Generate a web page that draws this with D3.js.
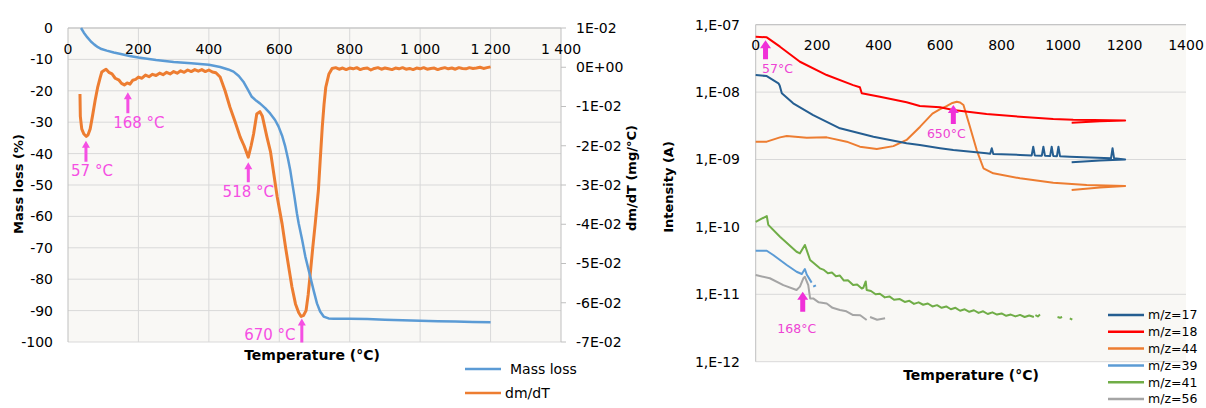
<!DOCTYPE html>
<html><head><meta charset="utf-8">
<script src="https://cdn.jsdelivr.net/npm/d3@7"></script>
<style>
body{margin:0;background:#fff;}
svg{display:block;font-family:"DejaVu Sans",sans-serif;}
</style></head><body>
<svg id="c" width="1206" height="408"></svg>
<script>
// ---------- LEFT CHART DATA (TGA) ----------
const massLossT = [37,45,55,65,75,85,95,110,130,150,175,200,250,300,350,400,432,455,470,485,498,510,522,535,545,560,574,588,598,608,617,625,631,637,643,650,655,665,674,681,688,698,707,716,726,740,754,800,850,900,950,1000,1050,1100,1150,1200];
const massLossV = [0,-1.5,-3,-4.3,-5.3,-6.1,-6.7,-7.2,-7.8,-8.3,-8.9,-9.4,-10.2,-10.8,-11.2,-11.7,-12.4,-13.2,-13.9,-15.3,-17.1,-19.5,-21.9,-23.2,-24,-25.5,-27.2,-29.3,-31.4,-34.3,-37.8,-41.8,-45.2,-49.5,-53.7,-59,-62.2,-67.5,-72.8,-76,-79.2,-83.8,-87.7,-90.3,-91.9,-92.5,-92.6,-92.6,-92.7,-92.9,-93.1,-93.2,-93.4,-93.5,-93.6,-93.7];
const dmdtT = [34,35,39,45,52,57,63,70,77,84,91,96,101,108,116,125,134,145,152,160,168,176,184,192,200,210,220,230,240,250,260,270,280,290,300,310,320,330,340,350,360,370,380,390,400,410,420,432,446,460,475,489,500,512,520,527,536,545,552,565,575,583,594,608,618,627,636,646,655,662,669,676,682,688,695,702,711,716,722,727,732,741,750,760,770,780,790,800,810,820,830,840,850,860,870,880,890,900,910,920,930,940,950,960,970,980,990,1000,1010,1020,1030,1040,1050,1060,1070,1080,1090,1100,1110,1120,1130,1140,1150,1160,1170,1180,1190,1200];
const dmdtV = [-0.0068,-0.0125,-0.0157,-0.0170,-0.0176,-0.0172,-0.0157,-0.0122,-0.0085,-0.0052,-0.0028,-0.0012,-0.0009,-0.0005,-0.0013,-0.0017,-0.0028,-0.0033,-0.0041,-0.0045,-0.0040,-0.0043,-0.0033,-0.0031,-0.0025,-0.0028,-0.0020,-0.0024,-0.0018,-0.0021,-0.0015,-0.0019,-0.0013,-0.0017,-0.0011,-0.0015,-0.0009,-0.0013,-0.0007,-0.0011,-0.0006,-0.0010,-0.0006,-0.0011,-0.0007,-0.0012,-0.0014,-0.0025,-0.0060,-0.0102,-0.0140,-0.0178,-0.0200,-0.0229,-0.0200,-0.0170,-0.0119,-0.0113,-0.0125,-0.0178,-0.0215,-0.0263,-0.0330,-0.0399,-0.0460,-0.0510,-0.0560,-0.0603,-0.0625,-0.0635,-0.0632,-0.0620,-0.0580,-0.0526,-0.0460,-0.0399,-0.0314,-0.0240,-0.0153,-0.0095,-0.0051,-0.0017,-0.0003,-0.0001,-0.0005,-0.0002,-0.0006,-0.0002,-0.0004,-0.0001,-0.0006,-0.0003,-0.0002,-0.0007,-0.0003,-0.0001,-0.0005,-0.0002,-0.0004,-0.0006,-0.0002,-0.0004,-0.0001,-0.0005,-0.0003,-0.0006,-0.0002,-0.0004,-0.0001,-0.0005,-0.0003,-0.0002,-0.0006,-0.0003,-0.0001,-0.0004,-0.0002,-0.0005,-0.0001,-0.0003,-0.0004,-0.0001,-0.0003,-0.0002,0.0000,-0.0003,-0.0001,0.0001];
const leftXTicks = [0,200,400,600,800,1000,1200,1400];
const leftXTickLabels = ["0","200","400","600","800","1 000","1 200","1 400"];
const leftYTicks = [0,-10,-20,-30,-40,-50,-60,-70,-80,-90,-100];
const dmdtTicks = [0.01,0,-0.01,-0.02,-0.03,-0.04,-0.05,-0.06,-0.07];
const dmdtTickLabels = ["1E-02","0E+00","-1E-02","-2E-02","-3E-02","-4E-02","-5E-02","-6E-02","-7E-02"];
const leftLegend = ["Mass loss","dm/dT"];
const leftAnnoLabels = ["57 °C","168 °C","518 °C","670 °C"];
const leftAnnoT = [51,170,512,664];
const leftAnnoV = [-0.0187,-0.0064,-0.0242,-0.0640];

// ---------- RIGHT CHART DATA (MS) ----------
const ms17T = [0,36,74,78,85,122,187,274,383,491,534,600,643,751,763,768,773,860,898,903,908,931,936,941,958,963,968,980,985,990,1022,1156,1161,1166,1202,1120,1028];
const ms17V = [1.79e-8,1.73e-8,1.35e-8,1.25e-8,9.6e-9,6.82e-9,4.57e-9,2.9e-9,2.18e-9,1.74e-9,1.64e-9,1.47e-9,1.38e-9,1.24e-9,1.22e-9,1.47e-9,1.21e-9,1.17e-9,1.15e-9,1.55e-9,1.15e-9,1.14e-9,1.55e-9,1.14e-9,1.13e-9,1.55e-9,1.13e-9,1.12e-9,1.55e-9,1.12e-9,1.10e-9,1.04e-9,1.47e-9,1.04e-9,1.0e-9,0.97e-9,0.91e-9];
const ms18T = [0,36,79,144,231,317,339,345,404,491,534,600,643,751,860,968,1033,1100,1202,1120,1028];
const ms18V = [6.64e-8,6.5e-8,4.72e-8,2.82e-8,1.79e-8,1.27e-8,1.18e-8,9.6e-9,8.55e-9,7.06e-9,6.22e-9,5.94e-9,5.42e-9,4.73e-9,4.31e-9,3.99e-9,3.88e-9,3.84e-9,3.8e-9,3.68e-9,3.52e-9];
const ms44T = [0,36,79,101,166,231,296,339,394,448,491,535,575,600,621,640,654,665,676,697,719,741,773,860,968,1077,1202,1120,1028];
const ms44V = [1.84e-9,1.84e-9,2.13e-9,2.23e-9,2.1e-9,2.13e-9,1.84e-9,1.55e-9,1.43e-9,1.58e-9,1.95e-9,3.07e-9,4.8e-9,5.6e-9,6.2e-9,6.9e-9,7.2e-9,7.0e-9,6.44e-9,3.07e-9,1.38e-9,7.41e-10,6.24e-10,5.26e-10,4.53e-10,4.19e-10,4.05e-10,3.85e-10,3.52e-10];
const ms39T = [0,36,57,101,133,150,160,166,182,null,187,196];
const ms39V = [4.43e-11,4.43e-11,3.83e-11,2.72e-11,2.16e-11,2.0e-11,2.37e-11,1.97e-11,1.49e-11,null,1.30e-11,1.36e-11];
const ms41T = [0,36,41,79,133,144,160,177,209,222,235,248,261,274,287,300,317,330,345,350,358,361,375,390,404,420,435,450,469,485,500,515,530,545,560,575,590,605,620,635,650,665,680,695,710,725,740,755,770,785,800,815,830,845,860,875,890,905,null,910,918,925,null,982,990,997,null,1022,1030];
const ms41V = [1.19e-10,1.45e-10,1.07e-10,7.14e-11,4.28e-11,4.05e-11,5.4e-11,3.23e-11,2.43e-11,2.3e-11,2.05e-11,2.1e-11,1.85e-11,1.9e-11,1.6e-11,1.62e-11,1.37e-11,1.4e-11,1.22e-11,1.25e-11,1.55e-11,1.16e-11,1.12e-11,1.0e-11,1.02e-11,9.0e-12,9.3e-12,8.3e-12,8.5e-12,7.7e-12,8.0e-12,7.2e-12,7.6e-12,7.0e-12,7.3e-12,6.6e-12,6.9e-12,6.3e-12,6.6e-12,6.0e-12,6.3e-12,5.7e-12,6.0e-12,5.5e-12,5.8e-12,5.3e-12,5.6e-12,5.1e-12,5.4e-12,5.0e-12,5.2e-12,4.8e-12,5.0e-12,4.7e-12,4.95e-12,4.6e-12,4.85e-12,4.6e-12,null,4.9e-12,4.7e-12,5.0e-12,null,4.6e-12,4.5e-12,4.6e-12,null,4.4e-12,4.2e-12];
const ms56T = [0,46,90,133,144,155,160,171,177,187,205,231,250,274,295,317,340,361,null,372,395,421];
const ms56V = [1.93e-11,1.73e-11,1.37e-11,1.16e-11,1.3e-11,1.73e-11,1.82e-11,1.37e-11,8.7e-12,8.7e-12,7.6e-12,7.3e-12,6.3e-12,5.85e-12,5.6e-12,4.93e-12,4.9e-12,4.16e-12,null,4.6e-12,4.2e-12,4.4e-12];
const msLegend = ["m/z=17","m/z=18","m/z=44","m/z=39","m/z=41","m/z=56"];
const msXTicks = [0,200,400,600,800,1000,1200,1400];
const msYTicks = [1e-7,1e-8,1e-9,1e-10,1e-11,1e-12];
const msYTickLabels = ["1,E-07","1,E-08","1,E-09","1,E-10","1,E-11","1,E-12"];
const msAnnoLabels = ["57°C","650°C","168°C"];
const msAnnoT = [32,643,153];
const msAnnoV = [5.9e-8,6.44e-9,1.09e-11];

// ---------- DRAW ----------
const svg = d3.select("#c");
const plotBg = "#f9f8f5", gridC = "#d9d9d9", axisC = "#bfbfbf";
const pink = "#f54fe3", pinkR = "#ee44d4";

const xL = d3.scaleLinear([0,1400],[68,561]);
const yL = d3.scaleLinear([-100,0],[342,28]);
const yR = d3.scaleLinear([-0.07,0.01],[342,28]);

const gL = svg.append("g");
gL.append("rect").attr("x",xL(0)).attr("y",yL(0)).attr("width",xL(1400)-xL(0)).attr("height",yL(-100)-yL(0)).attr("fill",plotBg);
gL.selectAll(".hg").data(leftYTicks).join("line").attr("x1",xL(0)).attr("x2",xL(1400))
  .attr("y1",d=>yL(d)).attr("y2",d=>yL(d)).attr("stroke",gridC).attr("stroke-width",1);
gL.selectAll(".vg").data(leftXTicks.slice(1,-1)).join("line").attr("y1",yL(0)).attr("y2",yL(-100))
  .attr("x1",d=>xL(d)).attr("x2",d=>xL(d)).attr("stroke",gridC).attr("stroke-width",1);
gL.append("line").attr("x1",xL(0)).attr("x2",xL(0)).attr("y1",yL(0)).attr("y2",yL(-100)).attr("stroke",axisC);
gL.append("line").attr("x1",xL(0)).attr("x2",xL(1400)).attr("y1",yL(0)).attr("y2",yL(0)).attr("stroke",axisC);
gL.append("line").attr("x1",xL(1400)).attr("x2",xL(1400)).attr("y1",yL(0)).attr("y2",yL(-100)).attr("stroke",axisC);
gL.selectAll(".rt").data(dmdtTicks).join("line").attr("x1",xL(1400)).attr("x2",xL(1400)+5)
  .attr("y1",d=>yR(d)).attr("y2",d=>yR(d)).attr("stroke",axisC);
gL.selectAll(".ly").data(leftYTicks).join("text").attr("x",53).attr("y",d=>yL(d)).attr("dy","0.35em")
  .attr("text-anchor","end").attr("font-size",14).attr("fill","#000").text(d=>d);
gL.selectAll(".lx").data(leftXTicks).join("text").attr("x",d=>xL(d)).attr("y",yL(0)+21).attr("dy","0.35em")
  .attr("text-anchor","middle").attr("font-size",14).attr("fill","#000").text((d,i)=>leftXTickLabels[i]);
gL.selectAll(".ry").data(dmdtTicks).join("text").attr("x",576).attr("y",d=>yR(d)).attr("dy","0.35em")
  .attr("text-anchor","start").attr("font-size",14).attr("fill","#000").text((d,i)=>dmdtTickLabels[i]);
gL.append("text").attr("transform","translate(18,184) rotate(-90)").attr("text-anchor","middle").attr("dy","0.35em")
  .attr("font-size",13).attr("font-weight","bold").text("Mass loss (%)");
gL.append("text").attr("transform","translate(631,178) rotate(-90)").attr("text-anchor","middle").attr("dy","0.35em")
  .attr("font-size",13).attr("font-weight","bold").text("dm/dT (mg/°C)");
gL.append("text").attr("x",312).attr("y",355).attr("dy","0.35em").attr("text-anchor","middle")
  .attr("font-size",14).attr("font-weight","bold").text("Temperature (°C)");
const lineML = d3.line().x(d=>xL(d[0])).y(d=>yL(d[1]));
const lineDM = d3.line().x(d=>xL(d[0])).y(d=>yR(d[1]));
gL.append("path").datum(dmdtT.map((t,i)=>[t,dmdtV[i]])).attr("d",lineDM).attr("fill","none")
  .attr("stroke","#ed7d31").attr("stroke-width",3).attr("stroke-linejoin","round");
gL.append("path").datum(massLossT.map((t,i)=>[t,massLossV[i]])).attr("d",lineML).attr("fill","none")
  .attr("stroke","#5b9bd5").attr("stroke-width",2.5).attr("stroke-linejoin","round");

function arrow(g, x, tipY, len, shaftW, headW, headH, color){
  g.append("path").attr("d",
    `M${x-shaftW/2},${tipY+len} L${x-shaftW/2},${tipY+headH} L${x-headW/2},${tipY+headH} L${x},${tipY} L${x+headW/2},${tipY+headH} L${x+shaftW/2},${tipY+headH} L${x+shaftW/2},${tipY+len} Z`)
    .attr("fill",color);
}
const leftAnnoLayout = [[6,30,21],[11,30,21],[0,30,20],[-32,16,24]];
leftAnnoLabels.forEach((lab,i)=>{
  const x = xL(leftAnnoT[i]), ty = yR(leftAnnoV[i]);
  const [dx,dy,len] = leftAnnoLayout[i];
  arrow(gL,x,ty,len,3,8,7,pink);
  gL.append("text").attr("x",x+dx).attr("y",ty+dy).attr("dy","0.35em").attr("text-anchor","middle")
    .attr("font-size",15).attr("fill",pink).text(lab);
});
const legColL = ["#5b9bd5","#ed7d31"];
leftLegend.forEach((lab,i)=>{
  const y = 369 + i*24;
  gL.append("line").attr("x1",465).attr("x2",501).attr("y1",y).attr("y2",y).attr("stroke",legColL[i]).attr("stroke-width",2.5);
  gL.append("text").attr("x",i===0?510:505).attr("y",y).attr("dy","0.35em").attr("font-size",14).text(lab);
});

// Right chart
const xR = d3.scaleLinear([0,1400],[755.7,1186]);
const yLog = d3.scaleLog([1e-12,1e-7],[361.7,24.7]);
const gR = svg.append("g");
gR.append("rect").attr("x",xR(0)).attr("y",yLog(1e-7)).attr("width",xR(1400)-xR(0)).attr("height",yLog(1e-12)-yLog(1e-7)).attr("fill",plotBg);
gR.selectAll(".hg").data(msYTicks).join("line").attr("x1",xR(0)).attr("x2",xR(1400))
  .attr("y1",d=>yLog(d)).attr("y2",d=>yLog(d)).attr("stroke",gridC);
gR.append("line").attr("x1",xR(0)).attr("x2",xR(0)).attr("y1",yLog(1e-7)).attr("y2",yLog(1e-12)).attr("stroke",axisC);
gR.append("line").attr("x1",xR(0)).attr("x2",xR(1400)).attr("y1",yLog(1e-7)).attr("y2",yLog(1e-7)).attr("stroke",axisC);
gR.selectAll(".ry").data(msYTicks).join("text").attr("x",740).attr("y",d=>yLog(d)).attr("dy","0.35em")
  .attr("text-anchor","end").attr("font-size",14).text((d,i)=>msYTickLabels[i]);
gR.selectAll(".rx").data(msXTicks).join("text").attr("x",d=>xR(d)).attr("y",yLog(1e-7)+20).attr("dy","0.35em")
  .attr("text-anchor","middle").attr("font-size",14).text(d=>d);
gR.append("text").attr("transform","translate(668,187) rotate(-90)").attr("text-anchor","middle").attr("dy","0.35em")
  .attr("font-size",13).attr("font-weight","bold").text("Intensity (A)");
gR.append("text").attr("x",971).attr("y",375).attr("dy","0.35em").attr("text-anchor","middle")
  .attr("font-size",14).attr("font-weight","bold").text("Temperature (°C)");

const msSeries = [[ms17T,ms17V,"#255e91"],[ms18T,ms18V,"#ff0000"],[ms44T,ms44V,"#ed7d31"],[ms39T,ms39V,"#5b9bd5"],[ms41T,ms41V,"#70ad47"],[ms56T,ms56V,"#a5a5a5"]];
const lineMS = d3.line().defined(d=>d[0]!==null && d[1]!==null).x(d=>xR(d[0])).y(d=>yLog(d[1]));
[5,4,3,2,0,1].forEach(k=>{
  const [T,V,c] = msSeries[k];
  gR.append("path").datum(T.map((t,i)=>[t,V[i]])).attr("d",lineMS).attr("fill","none")
    .attr("stroke",c).attr("stroke-width",2).attr("stroke-linejoin","round");
});
const msAnnoLayout = [[12,28,19],[-7,29,19],[-6,37,20]];
msAnnoLabels.forEach((lab,i)=>{
  const x = xR(msAnnoT[i]), ty = yLog(msAnnoV[i]);
  const [dx,dy,len] = msAnnoLayout[i];
  arrow(gR,x,ty,len,5,11,8,"#f030d8");
  gR.append("text").attr("x",x+dx).attr("y",ty+dy).attr("dy","0.35em").attr("text-anchor","middle")
    .attr("font-size",12.5).attr("fill",pinkR).text(lab);
});
msLegend.forEach((lab,i)=>{
  const y = 315 + i*16.8;
  gR.append("line").attr("x1",1108).attr("x2",1144).attr("y1",y).attr("y2",y).attr("stroke",msSeries[i][2]).attr("stroke-width",2.5);
  gR.append("text").attr("x",1148).attr("y",y).attr("dy","0.35em").attr("font-size",12.5).text(lab);
});
</script>
</body></html>
